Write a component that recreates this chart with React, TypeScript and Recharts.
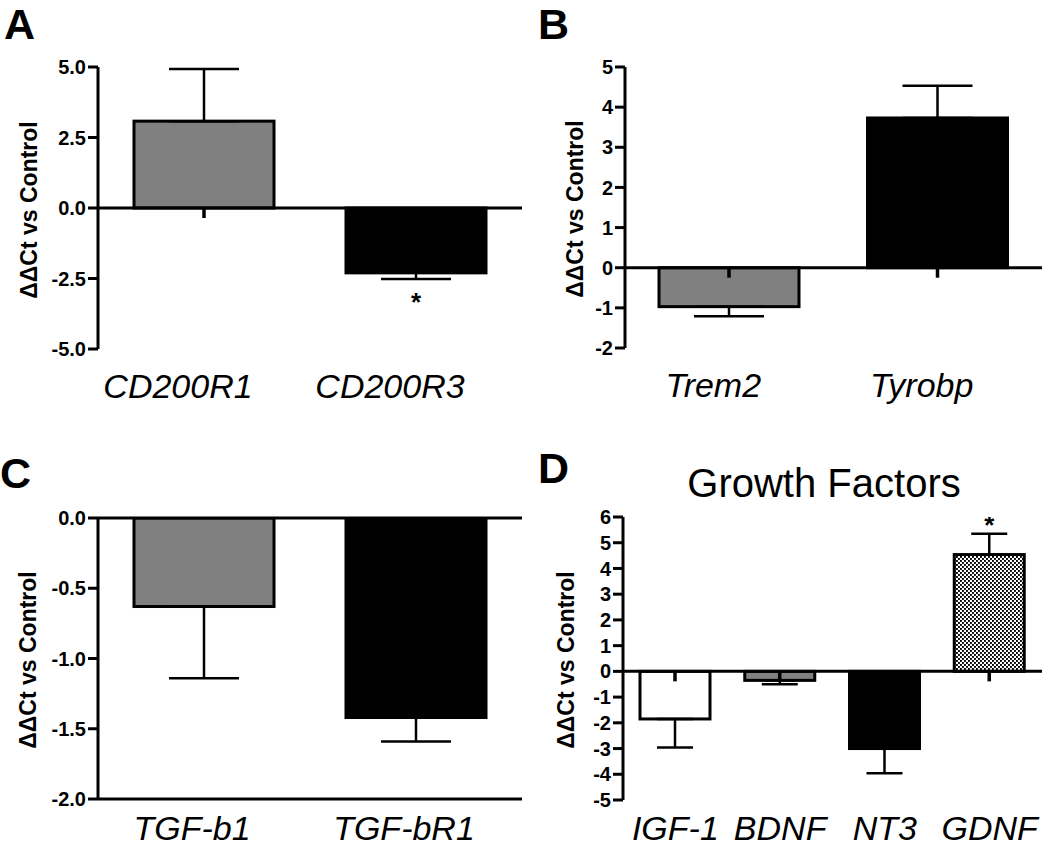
import { Bar, BarChart, ErrorBar, ReferenceLine, XAxis, YAxis } from 'recharts';

const FONT = '"Liberation Sans", Arial, Helvetica, sans-serif';

// Panel A
const genesA = ['CD200R1', 'CD200R3'];
const valuesA = [3.08, -2.3];
const errorsA = [1.85, 0.22];
const sigA = [false, true];
const ticksA = [-5, -2.5, 0, 2.5, 5];

// Panel B
const genesB = ['Trem2', 'Tyrobp'];
const valuesB = [-0.97, 3.73];
const errorsB = [0.24, 0.8];
const sigB = [false, false];
const ticksB = [-2, -1, 0, 1, 2, 3, 4, 5];

// Panel C
const genesC = ['TGF-b1', 'TGF-bR1'];
const valuesC = [-0.63, -1.42];
const errorsC = [0.51, 0.17];
const sigC = [false, false];
const ticksC = [-2, -1.5, -1, -0.5, 0];

// Panel D
const genesD = ['IGF-1', 'BDNF', 'NT3', 'GDNF'];
const valuesD = [-1.85, -0.35, -3.0, 4.54];
const errorsD = [1.11, 0.15, 0.96, 0.81];
const sigD = [false, false, false, true];
const ticksD = [-5, -4, -3, -2, -1, 0, 1, 2, 3, 4, 5, 6];

const GRAY = '#808080';
const fillsA = [GRAY, '#000'];
const fillsB = [GRAY, '#000'];
const fillsC = [GRAY, '#000'];
const fillsD = ['#fff', GRAY, '#000', 'url(#checker)'];

function buildRows(names: string[], values: number[], errors: number[], sig: boolean[], fills: string[]) {
  return names.map((name, i) => ({
    name,
    value: values[i],
    e: errors[i],
    // one-sided error bars, pointing away from zero
    err: values[i] >= 0 ? [0, errors[i]] : [errors[i], 0],
    sig: sig[i],
    fill: fills[i],
  }));
}

function makeShape(stub: boolean) {
  return (props: any) => {
    const { x, y, width, height, payload } = props;
    const v = payload.value;
    const top = Math.min(y, y + height);
    const h = Math.abs(height);
    const zeroY = v >= 0 ? top + h : top;
    const ppu = h / Math.abs(v);
    const tipVal = v >= 0 ? v + payload.e : v - payload.e;
    const tipY = zeroY - tipVal * ppu;
    const cx = x + width / 2;
    return (
      <g>
        <rect x={x} y={top} width={width} height={h} fill={payload.fill} stroke="#000" strokeWidth={3} />
        {stub && <line x1={cx} x2={cx} y1={zeroY} y2={zeroY + 10} stroke="#000" strokeWidth={3.5} />}
        {payload.sig && (
          <text
            x={cx}
            y={v >= 0 ? tipY : tipY + 32}
            textAnchor="middle"
            fontSize={26}
            fontWeight="bold"
            fontFamily={FONT}
            fill="#000"
          >
            *
          </text>
        )}
      </g>
    );
  };
}

type PanelProps = {
  left: number;
  top: number;
  width: number;
  height: number;
  rows: any[];
  domain: [number, number];
  ticks: number[];
  decimals: number;
  marginTop: number;
  yWidth: number;
  xHeight: number;
  labelGap: number;
  labelShift: number;
  barSize: number;
  capWidth: number;
  stub: boolean;
  bottomLine?: boolean;
};

function Panel(p: PanelProps) {
  return (
    <div style={{ position: 'absolute', left: p.left, top: p.top }}>
      <BarChart
        width={p.width}
        height={p.height}
        data={p.rows}
        margin={{ top: p.marginTop, right: 3, bottom: 0, left: 0 }}
      >
        <XAxis
          dataKey="name"
          height={p.xHeight}
          interval={0}
          axisLine={p.bottomLine ? { stroke: '#000', strokeWidth: 3 } : false}
          tickLine={false}
          tickSize={0}
          tickMargin={p.labelGap}
          tick={{ fill: '#000', fontSize: 34, fontStyle: 'italic', fontFamily: FONT, dx: p.labelShift }}
        />
        <YAxis
          type="number"
          width={p.yWidth}
          domain={p.domain}
          ticks={p.ticks}
          interval={0}
          allowDataOverflow
          tickFormatter={(v: number) => v.toFixed(p.decimals)}
          axisLine={{ stroke: '#000', strokeWidth: 3 }}
          tickLine={{ stroke: '#000', strokeWidth: 3 }}
          tickSize={10}
          tickMargin={2}
          tick={{ fill: '#000', fontSize: 20, fontWeight: 'bold', fontFamily: FONT }}
        />
        <Bar dataKey="value" barSize={p.barSize} isAnimationActive={false} shape={makeShape(p.stub)}>
          <ErrorBar dataKey="err" width={p.capWidth} stroke="#000" strokeWidth={2.5} direction="y" />
        </Bar>
        <ReferenceLine y={0} stroke="#000" strokeWidth={3} />
      </BarChart>
    </div>
  );
}

const letterStyle = { fontSize: 43, fontWeight: 'bold' as const, fontFamily: FONT, fill: '#000' };
const ylabStyle = { fontSize: 23, fontWeight: 'bold' as const, fontFamily: FONT, fill: '#000' };

function YLabel({ x, y }: { x: number; y: number }) {
  return (
    <text transform={`translate(${x},${y}) rotate(-90)`} textAnchor="middle" dominantBaseline="central" style={ylabStyle}>
      ΔΔCt vs Control
    </text>
  );
}

export default function App() {
  return (
    <div
      style={{
        position: 'absolute',
        left: 0,
        top: 0,
        width: 1050,
        height: 849,
        background: '#fff',
        overflow: 'hidden',
        fontFamily: FONT,
      }}
    >
      <svg width={0} height={0} style={{ position: 'absolute' }}>
        <defs>
          <pattern id="checker" width={4} height={4} patternUnits="userSpaceOnUse">
            <rect width={4} height={4} fill="#fff" />
            <rect x={0} y={0} width={1.9} height={1.9} fill="#000" />
            <rect x={2} y={2} width={1.9} height={1.9} fill="#000" />
          </pattern>
        </defs>
      </svg>

      <Panel
        left={0}
        top={0}
        width={525}
        height={420}
        rows={buildRows(genesA, valuesA, errorsA, sigA, fillsA)}
        domain={[-5, 5]}
        ticks={ticksA}
        decimals={1}
        marginTop={67}
        yWidth={98}
        xHeight={71}
        labelGap={25}
        labelShift={-26}
        barSize={140}
        capWidth={35}
        stub
      />
      <Panel
        left={520}
        top={0}
        width={525}
        height={420}
        rows={buildRows(genesB, valuesB, errorsB, sigB, fillsB)}
        domain={[-2, 5]}
        ticks={ticksB}
        decimals={0}
        marginTop={67}
        yWidth={105}
        xHeight={72}
        labelGap={25}
        labelShift={-16}
        barSize={140}
        capWidth={35}
        stub
      />
      <Panel
        left={0}
        top={420}
        width={525}
        height={429}
        rows={buildRows(genesC, valuesC, errorsC, sigC, fillsC)}
        domain={[-2, 0]}
        ticks={ticksC}
        decimals={1}
        marginTop={98}
        yWidth={98}
        xHeight={50}
        labelGap={17}
        labelShift={-12}
        barSize={140}
        capWidth={35}
        stub={false}
        bottomLine
      />
      <Panel
        left={520}
        top={420}
        width={525}
        height={429}
        rows={buildRows(genesD, valuesD, errorsD, sigD, fillsD)}
        domain={[-5, 6]}
        ticks={ticksD}
        decimals={0}
        marginTop={97}
        yWidth={103}
        xHeight={49}
        labelGap={16}
        labelShift={0}
        barSize={70}
        capWidth={18}
        stub
      />

      <svg width={1050} height={849} style={{ position: 'absolute', left: 0, top: 0, pointerEvents: 'none' }}>
        <text x={4} y={39} style={letterStyle}>A</text>
        <text x={538} y={39} style={letterStyle}>B</text>
        <text x={0} y={488} style={letterStyle}>C</text>
        <text x={538} y={483} style={letterStyle}>D</text>
        <text x={824} y={497} textAnchor="middle" style={{ fontSize: 40, fontFamily: FONT, fill: '#000' }}>
          Growth Factors
        </text>
        <YLabel x={29} y={210} />
        <YLabel x={575} y={209} />
        <YLabel x={28} y={660} />
        <YLabel x={566} y={660} />
      </svg>
    </div>
  );
}
